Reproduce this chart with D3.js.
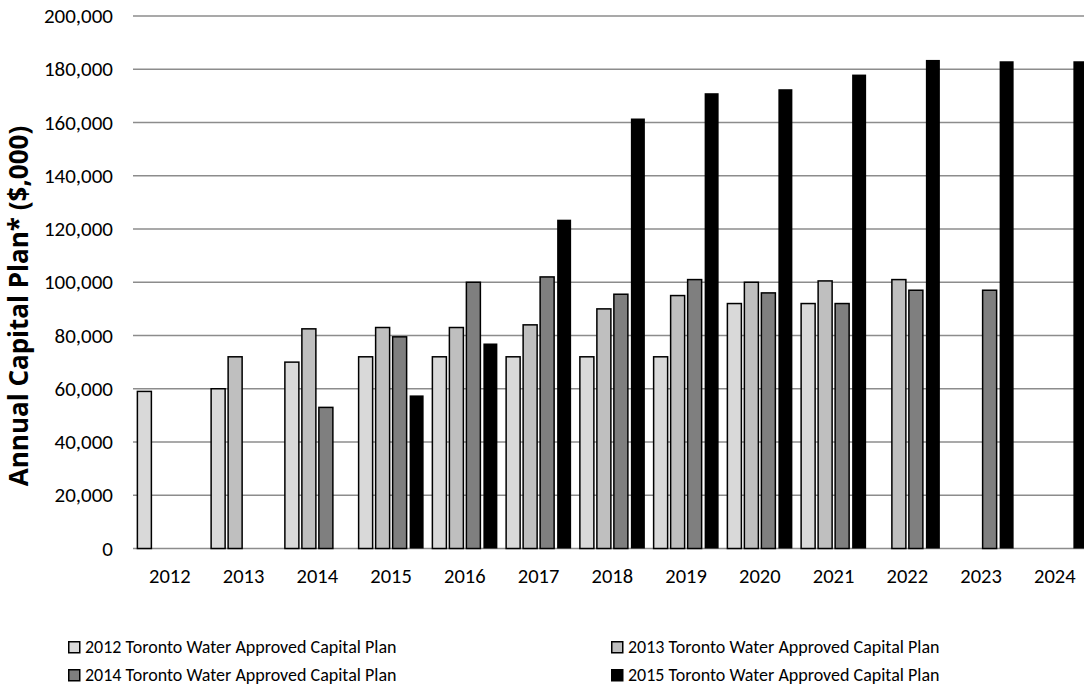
<!DOCTYPE html>
<html>
<head>
<meta charset="utf-8">
<script src="https://cdnjs.cloudflare.com/ajax/libs/d3/7.8.5/d3.min.js"></script>
<style>
  body { margin: 0; background: #fff; }
  svg { display: block; font-family: Calibri, Carlito, Lato, sans-serif; }
</style>
</head>
<body>
<div id="chart"></div>
<script>
// chart data
var years = ["2012","2013","2014","2015","2016","2017","2018","2019","2020","2021","2022","2023","2024"];
var seriesNames = [
  "2012 Toronto Water Approved Capital Plan",
  "2013 Toronto Water Approved Capital Plan",
  "2014 Toronto Water Approved Capital Plan",
  "2015 Toronto Water Approved Capital Plan"
];
var plan2012 = [59000, 60000, 70000, 72000, 72000, 72000, 72000, 72000, 92000, 92000, null, null, null];
var plan2013 = [null, 72000, 82500, 83000, 83000, 84000, 90000, 95000, 100000, 100500, 101000, null, null];
var plan2014 = [null, null, 53000, 79500, 100000, 102000, 95500, 101000, 96000, 92000, 97000, 97000, null];
var plan2015 = [null, null, null, 57500, 77000, 123500, 161500, 171000, 172500, 178000, 183500, 183000, 183000];
var yTicks = [0, 20000, 40000, 60000, 80000, 100000, 120000, 140000, 160000, 180000, 200000];
var colors = ["#d9d9d9", "#bfbfbf", "#7f7f7f", "#000000"];

var W = 1084, H = 687;
var margin = {top: 16, left: 133},
    step = 73.75,
    plotW = step * years.length,
    plotH = 532.5;

var allSeries = [plan2012, plan2013, plan2014, plan2015];

var svg = d3.select("#chart").append("svg")
    .attr("width", W)
    .attr("height", H);

var x0 = d3.scaleBand()
    .domain(years)
    .range([margin.left, margin.left + plotW])
    .paddingInner(0).paddingOuter(0);

var groupW = 65;
var x1 = d3.scaleBand()
    .domain(d3.range(4))
    .range([(step - groupW) / 2, (step + groupW) / 2])
    .paddingInner(3 / 17);

var y = d3.scaleLinear()
    .domain([0, 200000])
    .range([margin.top + plotH, margin.top]);

// gridlines
svg.append("g")
  .selectAll("line")
  .data(yTicks)
  .enter().append("line")
    .attr("x1", margin.left)
    .attr("x2", margin.left + plotW)
    .attr("y1", function(d) { return y(d); })
    .attr("y2", function(d) { return y(d); })
    .attr("stroke", "#8c8c8c")
    .attr("stroke-width", 1.5);

// y axis labels
var yAxis = d3.axisLeft(y)
    .tickValues(yTicks)
    .tickSize(0)
    .tickPadding(20)
    .tickFormat(d3.format(","));
var ya = svg.append("g")
    .attr("transform", "translate(" + margin.left + ",0)")
    .call(yAxis);
ya.select(".domain").remove();
ya.selectAll("text")
    .attr("font-size", 21)
    .attr("font-family", "Calibri, Carlito, Lato, sans-serif")
    .attr("fill", "#000");

// x axis labels
var xAxis = d3.axisBottom(x0).tickSize(0).tickPadding(20);
var xa = svg.append("g")
    .attr("transform", "translate(0," + (margin.top + plotH) + ")")
    .call(xAxis);
xa.select(".domain").remove();
xa.selectAll("text")
    .attr("font-size", 20.5)
    .attr("font-family", "Calibri, Carlito, Lato, sans-serif")
    .attr("fill", "#000");

// bars
var groups = svg.append("g").selectAll("g")
    .data(years)
    .enter().append("g")
    .attr("transform", function(d) { return "translate(" + x0(d) + ",0)"; });

groups.selectAll("rect")
    .data(function(d, i) {
      return allSeries.map(function(s, k) { return {k: k, v: s[i]}; })
        .filter(function(e) { return e.v != null; });
    })
    .enter().append("rect")
    .attr("x", function(d) { return x1(d.k); })
    .attr("width", x1.bandwidth())
    .attr("y", function(d) { return y(d.v); })
    .attr("height", function(d) { return y(0) - y(d.v); })
    .attr("fill", function(d) { return colors[d.k]; })
    .attr("stroke", function(d) { return d.k == 3 ? "none" : "#000"; })
    .attr("stroke-width", 1.5);

// y axis title
svg.append("text")
    .attr("transform", "translate(28,306) rotate(-90)")
    .attr("text-anchor", "middle")
    .attr("font-family", "'Open Sans', Lato, sans-serif")
    .attr("font-size", 26)
    .attr("font-weight", "bold")
    .attr("fill", "#000")
    .text("Annual Capital Plan* ($,000)");

// legend
var legendPos = [[68, 641], [611, 641], [68, 669], [611, 669]];
var lg = svg.append("g").selectAll("g")
    .data(seriesNames)
    .enter().append("g")
    .attr("transform", function(d, i) { return "translate(" + legendPos[i][0] + "," + legendPos[i][1] + ")"; });
lg.append("rect")
    .attr("x", 0.75).attr("y", 0.75)
    .attr("width", 11).attr("height", 11)
    .attr("fill", function(d, i) { return colors[i]; })
    .attr("stroke", "#000")
    .attr("stroke-width", 1.5);
lg.append("text")
    .attr("x", 17)
    .attr("y", 12)
    .attr("font-size", 18)
    .attr("fill", "#000")
    .text(function(d) { return d; });
</script>
</body>
</html>
